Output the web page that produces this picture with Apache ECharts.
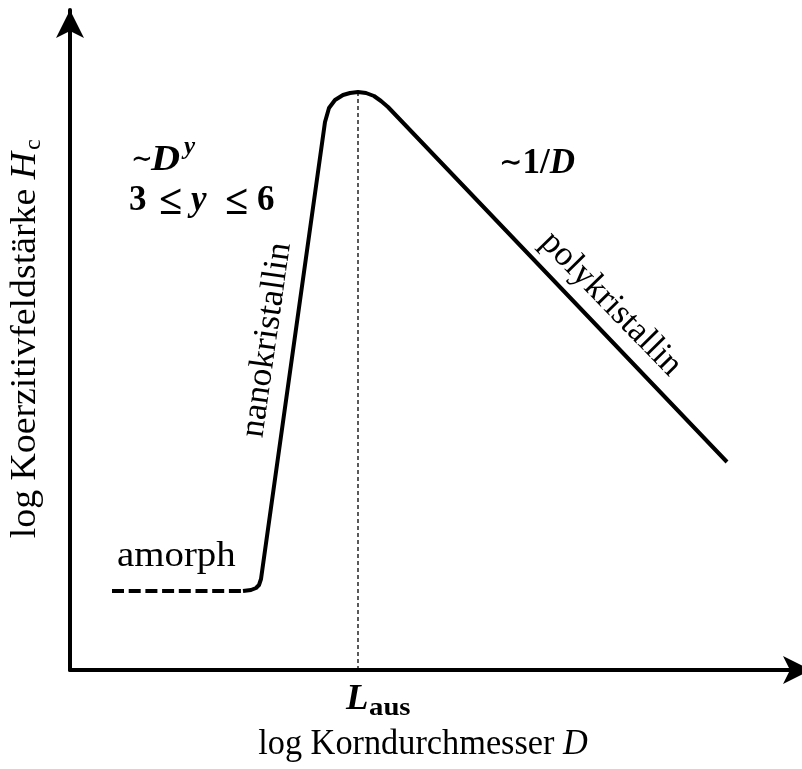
<!DOCTYPE html>
<html>
<head>
<meta charset="utf-8">
<script src="https://cdn.jsdelivr.net/npm/echarts@6/dist/echarts.min.js"></script>
<style>
  html, body { margin: 0; padding: 0; background: #fff; }
  #chart { width: 802px; height: 769px; }
</style>
</head>
<body>
<div id="chart"></div>
<script>
// Schematic: coercive field strength vs. grain diameter (log–log, arbitrary units)
// amorphous plateau (dashed)
const amorphD = [42, 173];
const amorphH = [79, 79];
// nanocrystalline rise, rounded maximum at L_aus, polycrystalline decay
const curveD = [173, 181, 186, 189, 191, 255, 259, 265, 273, 280, 288, 296, 304, 311, 318, 657];
const curveH = [79, 80, 82, 85, 91, 548, 562, 570, 575, 577, 578, 577, 574, 569, 563, 208];
// position of the maximum (L_aus) and its dashed guide
const lausD = 288;
const lausGuideH = [0, 578];

const zip = (xs, ys) => xs.map((x, i) => [x, ys[i]]);

const SERIF = '"Liberation Serif", "DejaVu Serif", serif';
const FS = 35;

const chart = echarts.init(document.getElementById('chart'), null, { renderer: 'canvas' });

function txt(x, y, text, opt) {
  opt = opt || {};
  return {
    type: 'text', x: x, y: y, rotation: opt.rotation || 0, scaleX: opt.scaleX || 1, z: 10,
    style: {
      text: text,
      fontFamily: SERIF,
      fontSize: opt.size || FS,
      fontWeight: opt.weight || 'normal',
      fontStyle: opt.style || 'normal',
      fill: '#000',
      align: opt.align || 'left',
      verticalAlign: 'middle',
      rich: opt.rich
    }
  };
}

const rich = {
  b: { fontFamily: SERIF, fontSize: FS, fontWeight: 'bold', fill: '#000' },
  t: { fontFamily: SERIF, fontSize: 28, fontWeight: 'bold', fill: '#000' },
  i: { fontFamily: SERIF, fontSize: FS, fontWeight: 'bold', fontStyle: 'italic', fill: '#000' },
  n: { fontFamily: SERIF, fontSize: FS, fill: '#000' },
  ni: { fontFamily: SERIF, fontSize: FS, fontStyle: 'italic', fill: '#000' }
};

const option = {
  animation: false,
  backgroundColor: '#fff',
  grid: { left: 70, right: 0, top: 10, bottom: 99, containLabel: false },
  xAxis: {
    type: 'value', min: 0, max: 732,
    axisLine: { show: true, onZero: false, symbol: ['none', 'arrow'], symbolSize: [21, 28],
      symbolOffset: [0, 9],
      lineStyle: { color: '#000', width: 4 } },
    axisTick: { show: false }, axisLabel: { show: false }, splitLine: { show: false }
  },
  yAxis: {
    type: 'value', min: 0, max: 660,
    axisLine: { show: true, onZero: false, symbol: ['none', 'arrow'], symbolSize: [21, 28],
      lineStyle: { color: '#000', width: 4 } },
    axisTick: { show: false }, axisLabel: { show: false }, splitLine: { show: false }
  },
  series: [
    {
      name: 'amorph', type: 'line', symbol: 'none', silent: true,
      data: zip(amorphD, amorphH),
      lineStyle: { color: '#000', width: 4, type: [12, 4.7], cap: 'butt' }
    },
    {
      name: 'kristallin', type: 'line', symbol: 'none', silent: true,
      data: zip(curveD, curveH),
      lineStyle: { color: '#000', width: 4, cap: 'butt', join: 'round' }
    },
    {
      name: 'L_aus', type: 'line', symbol: 'none', silent: true, z: 1,
      data: lausGuideH.map(h => [lausD, h]),
      lineStyle: { color: '#000', width: 1.3, type: [4, 3] }
    }
  ],
  graphic: [
    // ~D^y
    txt(131, 160, '∼', { weight: 'bold', size: 26 }),
    txt(151, 161, 'D', { weight: 'bold', style: 'italic', scaleX: 1.15 }),
    txt(184, 148, 'y', { weight: 'bold', style: 'italic', size: 25 }),
    // 3 ≤ y ≤ 6
    txt(129, 201, '3', { weight: 'bold' }),
    txt(159, 203, '≤', { weight: 'bold', size: 42 }),
    txt(191, 201, 'y', { weight: 'bold', style: 'italic' }),
    txt(225, 203, '≤', { weight: 'bold', size: 42 }),
    txt(257, 201, '6', { weight: 'bold' }),
    // ~1/D
    txt(499, 164, '{t|∼}{b|1/}{i|D}', { rich: rich }),
    // amorph
    txt(117, 557, 'amorph', { scaleX: 1.11 }),
    // nanokristallin, parallel to the steep branch
    txt(267, 340, 'nanokristallin', { align: 'center', rotation: 81.9 * Math.PI / 180, scaleX: 1.02 }),
    // polykristallin, parallel to the 1/D branch
    txt(611, 304, 'polykristallin', { align: 'center', rotation: -45.8 * Math.PI / 180 }),
    // L_aus
    txt(346, 700, 'L', { weight: 'bold', style: 'italic', scaleX: 1.05 }),
    txt(369, 709, 'aus', { weight: 'bold', size: 25, scaleX: 1.15 }),
    // axis titles
    txt(423, 745, '{n|log Korndurchmesser }{ni|D}', { align: 'center', rich: rich, scaleX: 0.98 }),
    txt(26, 152, '{n|log Koerzitivfeldstärke }{ni|H}', { align: 'right', rotation: Math.PI / 2, rich: rich, scaleX: 1.08 }),
    txt(34, 150, 'c', { size: 24, rotation: Math.PI / 2 })
  ]
};

chart.setOption(option);
</script>
</body>
</html>
